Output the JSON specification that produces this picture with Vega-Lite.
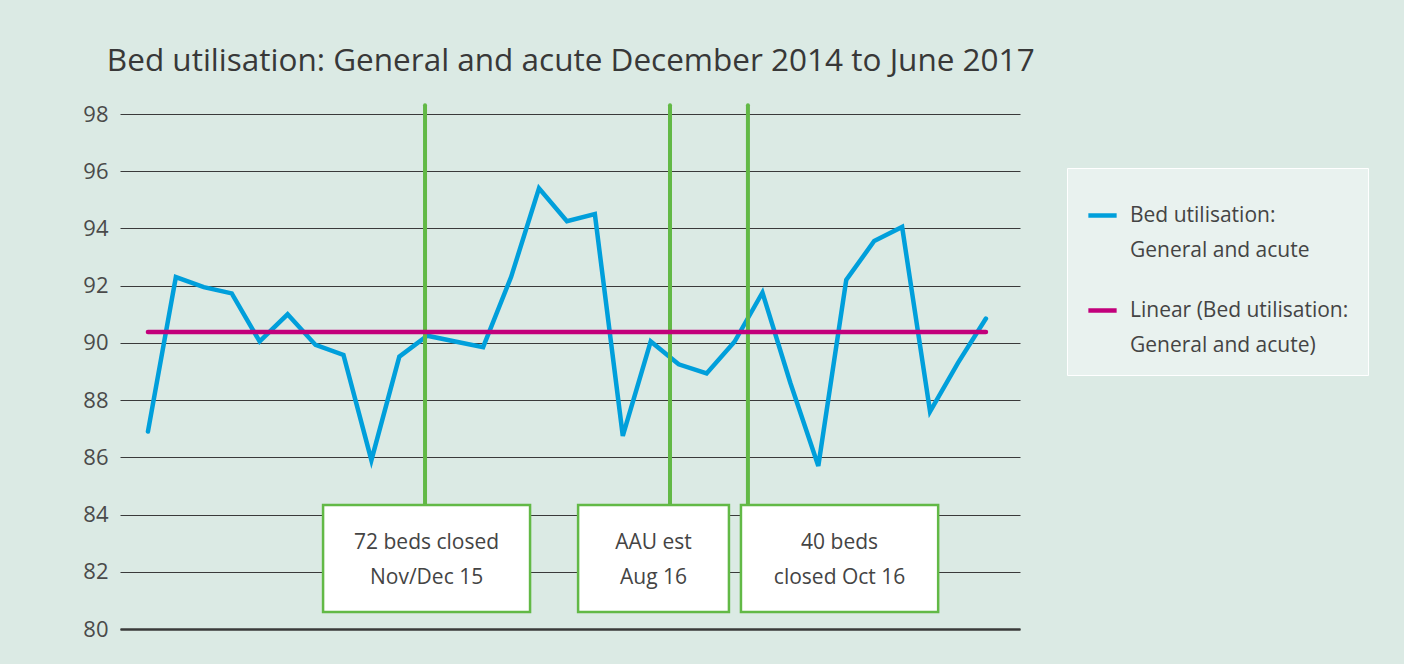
{
  "$schema": "https://vega.github.io/schema/vega-lite/v6.json",
  "width": 900,
  "height": 515,
  "autosize": {"type": "none"},
  "padding": {"left": 120, "top": 114, "right": 384, "bottom": 35},
  "background": "#dbeae4",
  "config": {
    "view": {"stroke": null},
    "font": "Open Sans"
  },
  "title": {
    "text": "Bed utilisation: General and acute December 2014 to June 2017",
    "anchor": "start",
    "font": "Open Sans",
    "fontSize": 31.5,
    "fontWeight": "normal",
    "color": "#383838",
    "dx": 24,
    "offset": 26
  },
  "datasets": {
    "util": [
      {"i": 0, "value": 86.9, "series": "Bed utilisation: General and acute"},
      {"i": 1, "value": 92.3, "series": "Bed utilisation: General and acute"},
      {"i": 2, "value": 91.95, "series": "Bed utilisation: General and acute"},
      {"i": 3, "value": 91.73, "series": "Bed utilisation: General and acute"},
      {"i": 4, "value": 90.05, "series": "Bed utilisation: General and acute"},
      {"i": 5, "value": 91.0, "series": "Bed utilisation: General and acute"},
      {"i": 6, "value": 89.93, "series": "Bed utilisation: General and acute"},
      {"i": 7, "value": 89.58, "series": "Bed utilisation: General and acute"},
      {"i": 8, "value": 85.9, "series": "Bed utilisation: General and acute"},
      {"i": 9, "value": 89.52, "series": "Bed utilisation: General and acute"},
      {"i": 10, "value": 90.25, "series": "Bed utilisation: General and acute"},
      {"i": 11, "value": 90.05, "series": "Bed utilisation: General and acute"},
      {"i": 12, "value": 89.85, "series": "Bed utilisation: General and acute"},
      {"i": 13, "value": 92.3, "series": "Bed utilisation: General and acute"},
      {"i": 14, "value": 95.4, "series": "Bed utilisation: General and acute"},
      {"i": 15, "value": 94.25, "series": "Bed utilisation: General and acute"},
      {"i": 16, "value": 94.5, "series": "Bed utilisation: General and acute"},
      {"i": 17, "value": 86.75, "series": "Bed utilisation: General and acute"},
      {"i": 18, "value": 90.05, "series": "Bed utilisation: General and acute"},
      {"i": 19, "value": 89.25, "series": "Bed utilisation: General and acute"},
      {"i": 20, "value": 88.93, "series": "Bed utilisation: General and acute"},
      {"i": 21, "value": 90.04, "series": "Bed utilisation: General and acute"},
      {"i": 22, "value": 91.76, "series": "Bed utilisation: General and acute"},
      {"i": 23, "value": 88.6, "series": "Bed utilisation: General and acute"},
      {"i": 24, "value": 85.7, "series": "Bed utilisation: General and acute"},
      {"i": 25, "value": 92.2, "series": "Bed utilisation: General and acute"},
      {"i": 26, "value": 93.56, "series": "Bed utilisation: General and acute"},
      {"i": 27, "value": 94.05, "series": "Bed utilisation: General and acute"},
      {"i": 28, "value": 87.6, "series": "Bed utilisation: General and acute"},
      {"i": 29, "value": 89.3, "series": "Bed utilisation: General and acute"},
      {"i": 30, "value": 90.85, "series": "Bed utilisation: General and acute"}
    ],
    "trend": [
      {"i": 0, "value": 90.38, "series": "Linear (Bed utilisation: General and acute)"},
      {"i": 30, "value": 90.38, "series": "Linear (Bed utilisation: General and acute)"}
    ],
    "events": [
      {"x": 9.92, "y1": 84.33, "y2": 98.31},
      {"x": 18.69, "y1": 84.33, "y2": 98.31},
      {"x": 21.48, "y1": 84.33, "y2": 98.31}
    ],
    "boxes": [
      {"x1": 6.27, "x2": 13.68, "xc": 9.975, "y1": 80.59, "y2": 84.33, "yc": 83.0, "label": "72 beds closed\nNov/Dec 15"},
      {"x1": 15.4, "x2": 20.8, "xc": 18.1, "y1": 80.59, "y2": 84.33, "yc": 83.0, "label": "AAU est\nAug 16"},
      {"x1": 21.23, "x2": 28.29, "xc": 24.76, "y1": 80.59, "y2": 84.33, "yc": 83.0, "label": "40 beds\nclosed Oct 16"}
    ]
  },
  "layer": [
    {
      "data": {"name": "util"},
      "mark": {"type": "line", "strokeWidth": 4.5, "strokeJoin": "miter", "strokeCap": "round"},
      "encoding": {
        "x": {
          "field": "i", "type": "quantitative",
          "scale": {"domain": [-1, 31.22], "nice": false, "zero": false},
          "axis": {"labels": false, "ticks": false, "grid": false, "title": null, "domain": true, "domainColor": "#3a3a3a", "domainWidth": 2.5}
        },
        "y": {
          "field": "value", "type": "quantitative",
          "scale": {"domain": [80, 98], "nice": false, "zero": false},
          "axis": {
            "values": [80, 82, 84, 86, 88, 90, 92, 94, 96, 98],
            "title": null, "domain": false, "ticks": false,
            "grid": true, "gridColor": "#3a3a3a", "gridWidth": 1, "gridOpacity": 1,
            "labelFontSize": 22, "labelFont": "Open Sans", "labelColor": "#4a4a4a", "labelPadding": 12
          }
        },
        "color": {
          "field": "series", "type": "nominal",
          "scale": {
            "domain": ["Bed utilisation: General and acute", "Linear (Bed utilisation: General and acute)"],
            "range": ["#009fdb", "#c2007b"]
          },
          "legend": {
            "orient": "none",
            "legendX": 947,
            "legendY": 54,
            "title": " ",
            "titleFontSize": 2,
            "titlePadding": 10,
            "symbolType": "stroke",
            "symbolStrokeWidth": 4.5,
            "symbolSize": 800,
            "labelFont": "Open Sans",
            "labelFontSize": 21,
            "labelColor": "#444444",
            "labelLimit": 400,
            "labelOffset": 11,
            "labelExpr": "[slice(datum.label, 0, indexof(datum.label, ': ') + 1), slice(datum.label, indexof(datum.label, ': ') + 2)]",
            "fillColor": "#e9f2ef",
            "strokeColor": "#ffffff",
            "padding": 19,
            "rowPadding": 33,
            "encode": {"labels": {"update": {"lineHeight": {"value": 35}}}}
          }
        }
      }
    },
    {
      "data": {"name": "events"},
      "mark": {"type": "rule", "color": "#62b946", "strokeWidth": 4, "strokeCap": "round"},
      "encoding": {
        "x": {"field": "x", "type": "quantitative"},
        "y": {"field": "y1", "type": "quantitative"},
        "y2": {"field": "y2"}
      }
    },
    {
      "data": {"name": "trend"},
      "mark": {"type": "line", "strokeWidth": 4.5, "strokeCap": "round"},
      "encoding": {
        "x": {"field": "i", "type": "quantitative"},
        "y": {"field": "value", "type": "quantitative"},
        "color": {"field": "series", "type": "nominal"}
      }
    },
    {
      "data": {"name": "boxes"},
      "mark": {"type": "rect", "fill": "#ffffff", "stroke": "#62b946", "strokeWidth": 2.5},
      "encoding": {
        "x": {"field": "x1", "type": "quantitative"},
        "x2": {"field": "x2"},
        "y": {"field": "y1", "type": "quantitative"},
        "y2": {"field": "y2"}
      }
    },
    {
      "data": {"name": "boxes"},
      "mark": {"type": "text", "font": "Open Sans", "fontSize": 21, "color": "#444444", "lineBreak": "\n", "lineHeight": 35, "align": "center", "baseline": "middle"},
      "encoding": {
        "x": {"field": "xc", "type": "quantitative"},
        "y": {"field": "yc", "type": "quantitative"},
        "text": {"field": "label"}
      }
    }
  ]
}
